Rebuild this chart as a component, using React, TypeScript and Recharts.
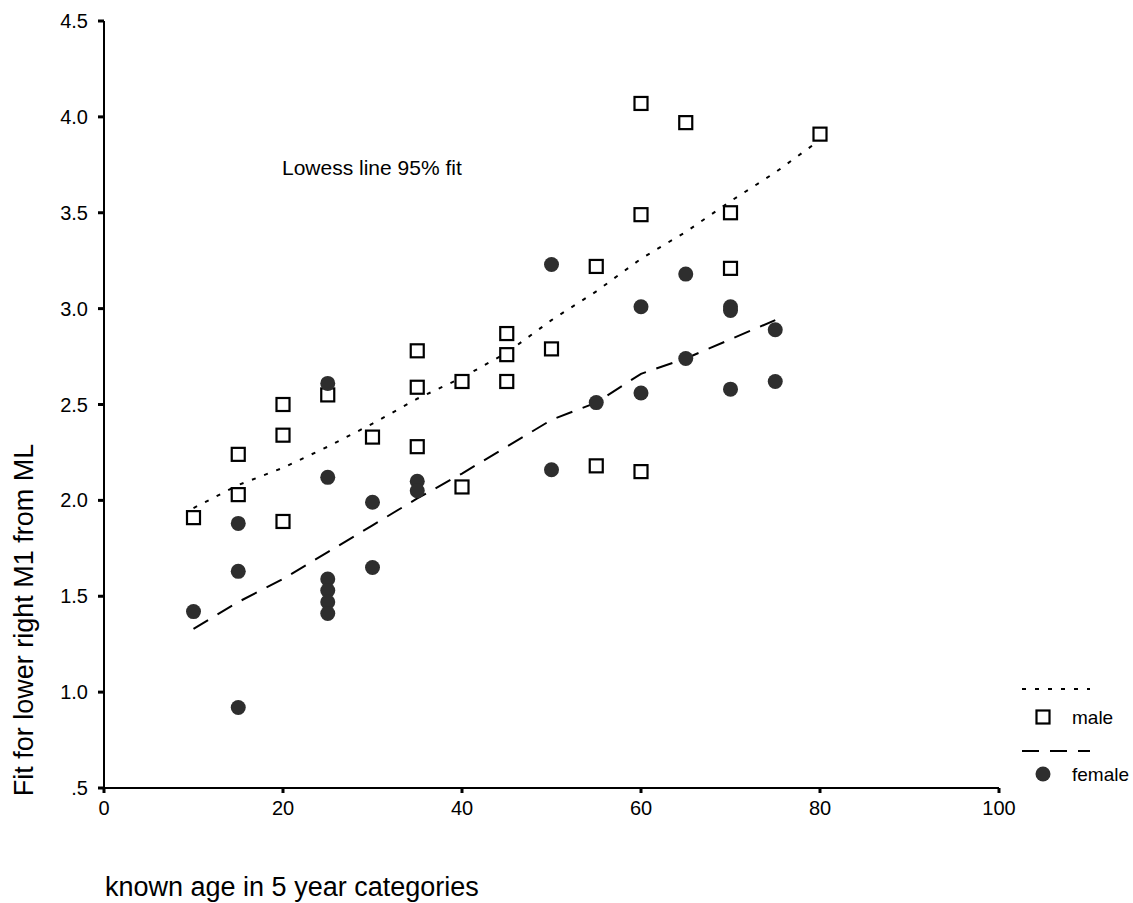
import React from 'react';
import { ScatterChart, Scatter, XAxis, YAxis, Legend } from 'recharts';

// ---- data ----
const maleAges = [10, 15, 15, 20, 20, 20, 25, 30, 35, 35, 35, 40, 40, 45, 45, 45, 50, 55, 55, 60, 60, 60, 65, 70, 70, 80];
const maleValues = [1.91, 2.24, 2.03, 2.50, 2.34, 1.89, 2.55, 2.33, 2.78, 2.59, 2.28, 2.62, 2.07, 2.87, 2.76, 2.62, 2.79, 3.22, 2.18, 4.07, 3.49, 2.15, 3.97, 3.50, 3.21, 3.91];

const femaleAges = [10, 15, 15, 15, 25, 25, 25, 25, 25, 25, 30, 30, 35, 35, 50, 50, 55, 60, 60, 65, 65, 70, 70, 70, 75, 75];
const femaleValues = [1.42, 1.88, 1.63, 0.92, 2.61, 2.12, 1.59, 1.53, 1.47, 1.41, 1.99, 1.65, 2.10, 2.05, 3.23, 2.16, 2.51, 3.01, 2.56, 3.18, 2.74, 3.01, 2.99, 2.58, 2.89, 2.62];

const maleLowessAges = [10, 15, 20, 25, 30, 35, 40, 45, 50, 55, 60, 65, 70, 75, 80];
const maleLowess = [1.96, 2.08, 2.17, 2.28, 2.40, 2.53, 2.64, 2.77, 2.94, 3.09, 3.26, 3.40, 3.56, 3.71, 3.88];

const femaleLowessAges = [10, 15, 20, 25, 30, 35, 40, 45, 50, 55, 60, 65, 70, 75];
const femaleLowess = [1.33, 1.47, 1.59, 1.73, 1.87, 2.01, 2.14, 2.28, 2.42, 2.51, 2.66, 2.74, 2.84, 2.94];

const xTicks = [0, 20, 40, 60, 80, 100];
const yTicks = [0.5, 1.0, 1.5, 2.0, 2.5, 3.0, 3.5, 4.0, 4.5];

const seriesNames = ['male', 'female'];
const titleText = 'Lowess line 95% fit';
const xLabel = 'known age in 5 year categories';
const yLabel = 'Fit for lower right M1 from ML';

const zip = (xs: number[], ys: number[]) => xs.map((x, i) => ({ x, y: ys[i] }));
const maleData = zip(maleAges, maleValues);
const femaleData = zip(femaleAges, femaleValues);
const maleFit = zip(maleLowessAges, maleLowess);
const femaleFit = zip(femaleLowessAges, femaleLowess);

const FONT = '"Liberation Sans", Arial, sans-serif';

const Square = (props: any) => {
  const { cx, cy } = props;
  if (cx == null || cy == null) return <g />;
  return <rect x={cx - 6.5} y={cy - 6.5} width={13} height={13} fill="#fff" stroke="#000" strokeWidth={2.2} />;
};
const Dot = (props: any) => {
  const { cx, cy } = props;
  if (cx == null || cy == null) return <g />;
  return <circle cx={cx} cy={cy} r={7.5} fill="#2e2e2e" />;
};
const NoShape = () => <g />;

const LegendBox = () => (
  <svg width={118} height={115} style={{ display: 'block' }}>
    <line x1={7} y1={14} x2={75} y2={14} stroke="#000" strokeWidth={2} strokeDasharray="4 9" />
    <rect x={21.5} y={35.5} width={13} height={13} fill="#fff" stroke="#000" strokeWidth={2.2} />
    <text x={57} y={49} fontFamily={FONT} fontSize={19} fill="#000">{seriesNames[0]}</text>
    <line x1={7} y1={76} x2={75} y2={76} stroke="#000" strokeWidth={2} strokeDasharray="17 11" />
    <circle cx={28} cy={99} r={7.5} fill="#2e2e2e" />
    <text x={57} y={106} fontFamily={FONT} fontSize={19} fill="#000">{seriesNames[1]}</text>
  </svg>
);

const tickStyle = { fill: '#000', fontSize: 20, fontFamily: FONT };

export default function App() {
  return (
    <div style={{ position: 'absolute', left: 0, top: 0, width: 1133, height: 903, background: '#fff' }}>
      <ScatterChart width={1133} height={903} margin={{ top: 21, right: 134, bottom: 85, left: 44 }}>
        <XAxis
          dataKey="x"
          type="number"
          domain={[0, 100]}
          ticks={xTicks}
          tick={tickStyle}
          tickSize={5}
          tickMargin={8}
          axisLine={{ stroke: '#000', strokeWidth: 2 }}
          tickLine={{ stroke: '#000', strokeWidth: 3 }}
          height={30}
        />
        <YAxis
          dataKey="y"
          type="number"
          domain={[0.5, 4.5]}
          ticks={yTicks}
          tick={tickStyle}
          tickFormatter={(v: number) => (v === 0.5 ? '.5' : v.toFixed(1))}
          tickSize={6}
          tickMargin={10}
          axisLine={{ stroke: '#000', strokeWidth: 2 }}
          tickLine={{ stroke: '#000', strokeWidth: 3 }}
          width={60}
        />
        <Scatter name="male fit" data={maleFit} shape={NoShape} line={{ stroke: '#000', strokeWidth: 2, strokeDasharray: '4 9' }} isAnimationActive={false} legendType="none" />
        <Scatter name="female fit" data={femaleFit} shape={NoShape} line={{ stroke: '#000', strokeWidth: 2, strokeDasharray: '17 11' }} isAnimationActive={false} legendType="none" />
        <Scatter name="male" data={maleData} shape={Square} isAnimationActive={false} />
        <Scatter name="female" data={femaleData} shape={Dot} isAnimationActive={false} />
        <Legend
          layout="vertical"
          align="center"
          verticalAlign="middle"
          content={() => <LegendBox />}
          wrapperStyle={{ position: 'absolute', left: 1015, top: 675, width: 118, height: 115 }}
        />
      </ScatterChart>
      <svg width={1133} height={903} style={{ position: 'absolute', left: 0, top: 0, pointerEvents: 'none' }}>
        <text x={282} y={175} fontFamily={FONT} fontSize={21} fill="#000">{titleText}</text>
        <text x={105} y={896} fontFamily={FONT} fontSize={27} fill="#000">{xLabel}</text>
        <text
          x={33}
          y={620}
          fontFamily={FONT}
          fontSize={27}
          fill="#000"
          textAnchor="middle"
          transform="rotate(-90 33 620)"
        >
          {yLabel}
        </text>
      </svg>
    </div>
  );
}
